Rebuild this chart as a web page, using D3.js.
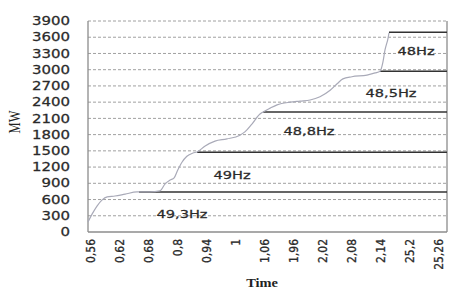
<!DOCTYPE html>
<html><head><meta charset="utf-8">
<script src="https://cdn.jsdelivr.net/npm/d3@7"></script>
<style>html,body{margin:0;padding:0;background:#fff;}svg{display:block;}</style>
</head><body>
<script>
// ---- data ----
const categories = ["0,56","0,62","0,68","0,8","0,94","1","1,06","1,96","2,02","2,08","2,14","25,2","25,26"];
const yTicks = [0,300,600,900,1200,1500,1800,2100,2400,2700,3000,3300,3600,3900];
// curve position in category units (0 = first label) and MW value
const curvePos = [-0.07,0.07,0.24,0.41,0.59,0.86,1.21,1.62,2.07,2.41,2.59,2.76,2.90,3.03,3.17,3.34,3.55,3.69,3.97,4.31,4.72,5.17,5.34,5.59,5.86,5.97,6.21,6.45,6.90,7.24,7.59,7.93,8.28,8.52,8.72,9.03,9.55,9.83,10.0,10.1,10.17,10.28,10.31];
const curveMW  = [185,330,480,590,650,665,700,740,740,760,890,960,1000,1150,1290,1400,1460,1480,1590,1680,1720,1790,1850,2000,2180,2220,2290,2350,2400,2420,2440,2500,2620,2740,2830,2870,2900,2940,2970,3140,3360,3590,3680];
const stepLabels = ["49,3Hz","49Hz","48,8Hz","48,5Hz","48Hz"];
const stepMW     = [740,1475,2220,2970,3690];
const stepStart  = [1.69,3.69,5.97,10.0,10.31];

// ---- layout ----
const W=465,H=296, L=88, R=447, T=21, B=232;
const svg=d3.select("body").append("svg").attr("width",W).attr("height",H);
const x=d3.scaleLinear().domain([-0.07,12.31]).range([L,R]);
const y=d3.scaleLinear().domain([0,3900]).range([B,T]);
const gray="#8c8c8c", dark="#333";

// gridlines
svg.append("g").selectAll("line").data(yTicks.filter(d=>d>0)).join("line")
  .attr("x1",L).attr("x2",R).attr("y1",d=>y(d)).attr("y2",d=>y(d))
  .attr("stroke","#a0a0a0").attr("stroke-width",1).attr("stroke-dasharray","3,2");

// axes frame
svg.append("line").attr("x1",L).attr("x2",L).attr("y1",T).attr("y2",B).attr("stroke",gray).attr("stroke-width",1.3);
svg.append("line").attr("x1",R).attr("x2",R).attr("y1",T).attr("y2",B).attr("stroke",gray).attr("stroke-width",1.3);
svg.append("line").attr("x1",L).attr("x2",R).attr("y1",B).attr("y2",B).attr("stroke",gray).attr("stroke-width",1.3);

// step threshold lines
svg.append("g").selectAll("line").data(stepMW).join("line")
  .attr("x1",(d,i)=>x(stepStart[i])).attr("x2",R).attr("y1",d=>y(d)).attr("y2",d=>y(d))
  .attr("stroke",dark).attr("stroke-width",1.5);

// curve
const pts=curvePos.map((p,i)=>[p,curveMW[i]]);
svg.append("path").datum(pts)
  .attr("d",d3.line().x(d=>x(d[0])).y(d=>y(d[1])).curve(d3.curveMonotoneX))
  .attr("fill","none").attr("stroke","#a9aab8").attr("stroke-width",1.2);

const txt = sel => sel.attr("font-family","DejaVu Sans, Verdana, sans-serif")
  .attr("fill","#2a2a2a").attr("stroke","#2a2a2a").attr("stroke-width",0.25);

// y tick labels
svg.append("g").selectAll("text").data(yTicks).join("text")
  .attr("transform",d=>`translate(70,${y(d)}) scale(1.3,1)`)
  .attr("dy","0.36em").attr("text-anchor","end").attr("font-size",11.5)
  .call(txt).text(d=>d);

// x tick labels
svg.append("g").selectAll("text").data(categories).join("text")
  .attr("transform",(d,i)=>`translate(${x(i)},239) scale(1.2,1) rotate(-90)`)
  .attr("dy","0.36em").attr("text-anchor","end").attr("font-size",10.8)
  .call(txt).text(d=>d);

// step labels
const labelPos=[[182,218],[232,179],[309,135],[391,97],[416,55]];
svg.append("g").selectAll("text").data(stepLabels).join("text")
  .attr("transform",(d,i)=>`translate(${labelPos[i][0]},${labelPos[i][1]}) scale(1.35,1)`)
  .attr("text-anchor","middle").attr("font-size",10.8)
  .call(txt).text(d=>d);

// axis titles
svg.append("text").attr("transform","translate(14,122) scale(1.4,1) rotate(-90)")
  .attr("dy","0.35em").attr("text-anchor","middle")
  .attr("font-family","Liberation Serif, Times New Roman, serif").attr("font-size",12.5).attr("fill","#222")
  .text("MW");
svg.append("text").attr("transform","translate(262,287) scale(1.2,1)")
  .attr("text-anchor","middle")
  .attr("font-family","Liberation Serif, Times New Roman, serif").attr("font-weight","bold").attr("font-size",12).attr("fill","#222")
  .text("Time");
</script>
</body></html>
